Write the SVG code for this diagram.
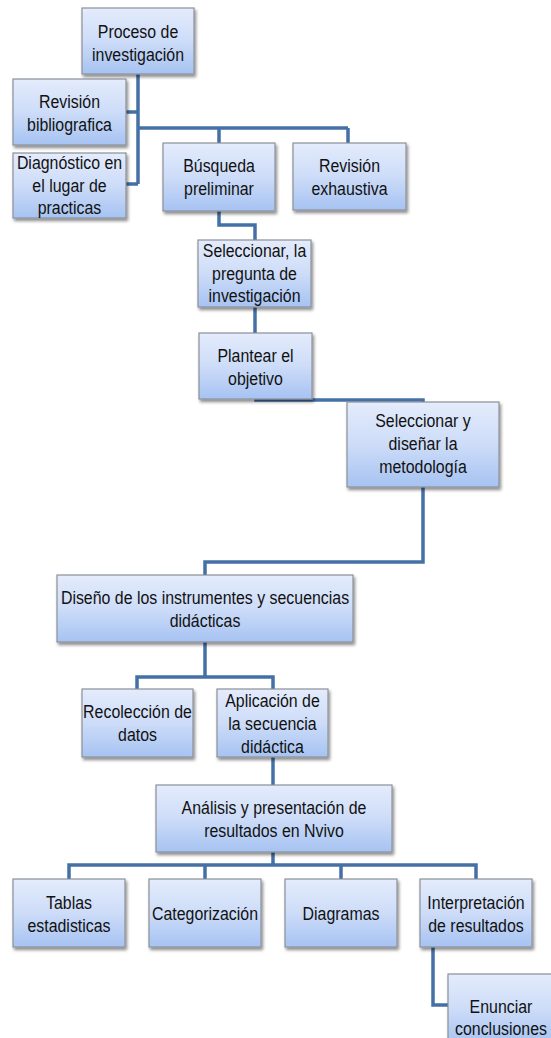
<svg xmlns="http://www.w3.org/2000/svg" width="551" height="1038" viewBox="0 0 551 1038">
<defs>
<linearGradient id="g" x1="0" y1="0" x2="0" y2="1">
<stop offset="0" stop-color="#e4ecfc"/>
<stop offset="0.5" stop-color="#cddcf8"/>
<stop offset="1" stop-color="#a6c3f2"/>
</linearGradient>
<filter id="sh" x="-10%" y="-10%" width="125%" height="130%">
<feDropShadow dx="1.5" dy="2.5" stdDeviation="1.5" flood-color="#000" flood-opacity="0.45"/>
</filter>
<style>
.b{fill:url(#g);stroke:#8c9099;stroke-width:1.2;filter:url(#sh)}
.t{font-family:"Liberation Sans",Arial,sans-serif;font-size:18.5px;fill:#111;text-anchor:middle}
.c{fill:none;stroke:#4470a6;stroke-width:3.5;stroke-linejoin:miter}
</style>
</defs>
<rect width="551" height="1038" fill="#fff"/>
<g id="connectors">
<path class="c" d="M138,74 V184 M126,112 H138 M126,184 H138 M138,128 H348 M219,128 V143 M348,128 V143"/>
<path class="c" d="M219,211 V225 H255 V240"/>
<path class="c" d="M255,307 V333"/>
<path class="c" d="M256,399 V400 H423 V402"/>
<path class="c" d="M423,487 V562 H205 V575"/>
<path class="c" d="M205,642 V677 M137,689 V677 H273 V689"/>
<path class="c" d="M273,757 V785"/>
<path class="c" d="M273,852 V865 M69,879 V865 H476 V879 M205,865 V879 M341,865 V879"/>
<path class="c" d="M433,947 V1005 H448"/>
</g>
<g id="n1"><rect class="b" x="82" y="8" width="112" height="66"/><text class="t" transform="translate(138,38) scale(.86,1)">Proceso de</text><text class="t" transform="translate(138,61) scale(.86,1)">investigación</text></g>
<g id="n2"><rect class="b" x="13" y="79" width="113" height="66"/><text class="t" transform="translate(69.5,108) scale(.86,1)">Revisión</text><text class="t" transform="translate(69.5,131) scale(.86,1)">bibliografica</text></g>
<g id="n3"><rect class="b" x="13" y="153" width="113" height="65"/><text class="t" transform="translate(69.5,169) scale(.86,1)">Diagnóstico en</text><text class="t" transform="translate(69.5,192) scale(.86,1)">el lugar de</text><text class="t" transform="translate(69.5,214) scale(.86,1)">practicas</text></g>
<g id="n4"><rect class="b" x="163" y="143" width="112" height="68"/><text class="t" transform="translate(219,172) scale(.86,1)">Búsqueda</text><text class="t" transform="translate(219,195) scale(.86,1)">preliminar</text></g>
<g id="n5"><rect class="b" x="293" y="143" width="113" height="67"/><text class="t" transform="translate(349.5,172) scale(.86,1)">Revisión</text><text class="t" transform="translate(349.5,195) scale(.86,1)">exhaustiva</text></g>
<g id="n6"><rect class="b" x="198" y="240" width="113" height="67"/><text class="t" transform="translate(254.5,257) scale(.86,1)">Seleccionar, la</text><text class="t" transform="translate(254.5,280) scale(.86,1)">pregunta de</text><text class="t" transform="translate(254.5,302) scale(.86,1)">investigación</text></g>
<g id="n7"><rect class="b" x="199" y="333" width="113" height="66"/><text class="t" transform="translate(255.5,362) scale(.86,1)">Plantear el</text><text class="t" transform="translate(255.5,385) scale(.86,1)">objetivo</text></g>
<g id="n8"><rect class="b" x="347" y="402" width="152" height="85"/><text class="t" transform="translate(423,427) scale(.86,1)">Seleccionar y</text><text class="t" transform="translate(423,450) scale(.86,1)">diseñar la</text><text class="t" transform="translate(423,473) scale(.86,1)">metodología</text></g>
<g id="n9"><rect class="b" x="57" y="575" width="296" height="67"/><text class="t" transform="translate(205,604) scale(.86,1)">Diseño de los instrumentes y secuencias</text><text class="t" transform="translate(205,627) scale(.86,1)">didácticas</text></g>
<g id="n10"><rect class="b" x="82" y="689" width="111" height="68"/><text class="t" transform="translate(137.5,718) scale(.86,1)">Recolección de</text><text class="t" transform="translate(137.5,741) scale(.86,1)">datos</text></g>
<g id="n11"><rect class="b" x="217" y="689" width="111" height="68"/><text class="t" transform="translate(272.5,707) scale(.86,1)">Aplicación de</text><text class="t" transform="translate(272.5,730) scale(.86,1)">la secuencia</text><text class="t" transform="translate(272.5,753) scale(.86,1)">didáctica</text></g>
<g id="n12"><rect class="b" x="156" y="785" width="236" height="67"/><text class="t" transform="translate(274,814) scale(.86,1)">Análisis y presentación de</text><text class="t" transform="translate(274,837) scale(.86,1)">resultados en Nvivo</text></g>
<g id="n13"><rect class="b" x="13" y="879" width="112" height="68"/><text class="t" transform="translate(69,909) scale(.86,1)">Tablas</text><text class="t" transform="translate(69,932) scale(.86,1)">estadisticas</text></g>
<g id="n14"><rect class="b" x="149" y="879" width="112" height="68"/><text class="t" transform="translate(205,920) scale(.86,1)">Categorización</text></g>
<g id="n15"><rect class="b" x="285" y="879" width="112" height="68"/><text class="t" transform="translate(341,920) scale(.86,1)">Diagramas</text></g>
<g id="n16"><rect class="b" x="420" y="879" width="112" height="68"/><text class="t" transform="translate(476,909) scale(.86,1)">Interpretación</text><text class="t" transform="translate(476,932) scale(.86,1)">de resultados</text></g>
<g id="n17"><rect class="b" x="448" y="974" width="112" height="70"/><text class="t" transform="translate(501,1013) scale(.86,1)">Enunciar</text><text class="t" transform="translate(501,1035) scale(.86,1)">conclusiones</text></g>
</svg>
